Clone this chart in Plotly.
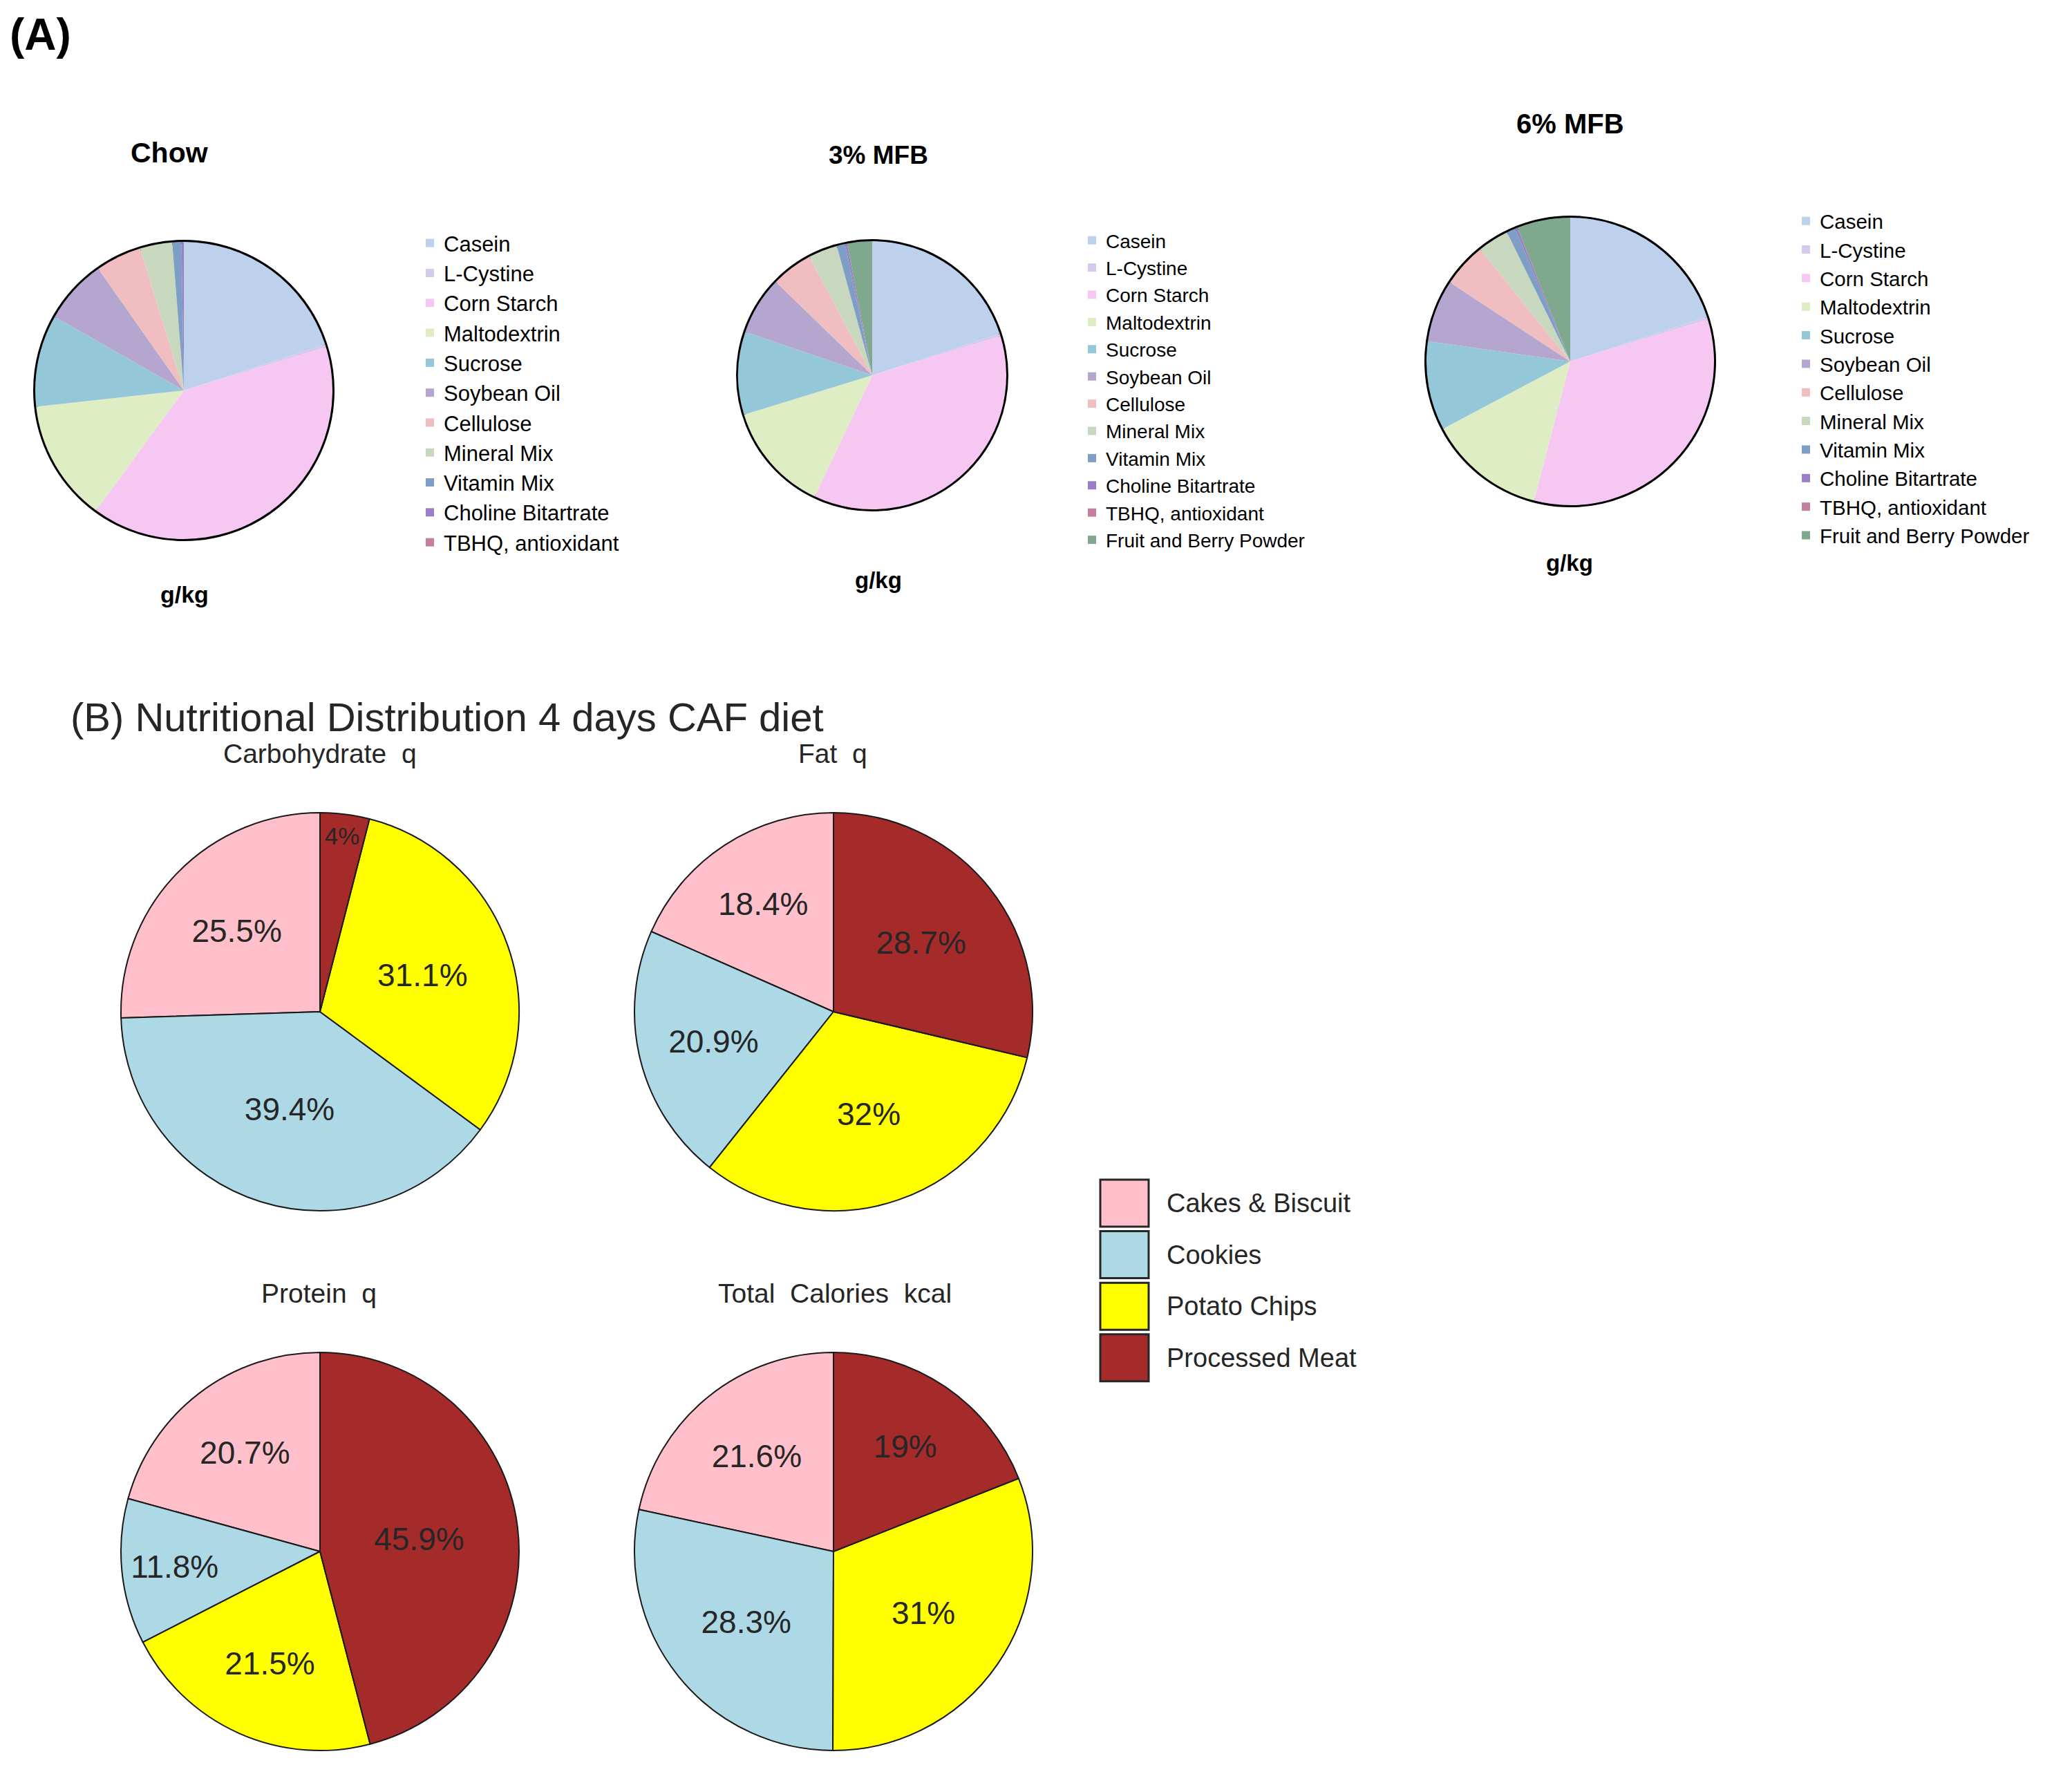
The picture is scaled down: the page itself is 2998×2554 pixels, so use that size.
import plotly.graph_objects as go

W, H = 2998, 2554
OFF = 8  # page body margin of the html file

# ---- panel A: diet composition, g/kg ----
ingredients = ["Casein", "L-Cystine", "Corn Starch", "Maltodextrin", "Sucrose",
               "Soybean Oil", "Cellulose", "Mineral Mix", "Vitamin Mix",
               "Choline Bitartrate", "TBHQ, antioxidant", "Fruit and Berry Powder"]
ingredient_colors = ["#BDD0EC", "#D5C9EC", "#F5C7F2", "#DEEDC3", "#94C7D8", "#B4A6CE",
                     "#F0BDC0", "#C8D8BF", "#7F9EC5", "#9C7DC7", "#C47E9F", "#80A88F"]
chow_gkg = [200, 3, 397.486, 132, 100, 70, 50, 35, 10, 2.5, 0.014]
mfb3_gkg = [200, 3, 367.486, 132, 100, 70, 50, 35, 10, 2.5, 0.014, 30]
mfb6_gkg = [200, 3, 337.486, 132, 100, 70, 50, 35, 10, 2.5, 0.014, 60]

# ---- panel B: CAF diet, share per food ----
foods = ["Cakes & Biscuit", "Cookies", "Potato Chips", "Processed Meat"]
food_colors = ["#FFC0CB", "#ADD8E6", "#FFFF00", "#A52A2A"]
carbohydrate_pct = [25.5, 39.4, 31.1, 4.0]
fat_pct = [18.4, 20.9, 32.0, 28.7]
protein_pct = [20.7, 11.8, 21.5, 45.9]
calories_pct = [21.6, 28.3, 31.0, 19.0]

FONT = "Liberation Sans, Arial, sans-serif"
DARK = "#262626"


def px(x):
    return (x - OFF) / W


def py(y):
    return 1 - (y - OFF) / H


def dom(cx, cy, r):
    # page-pixel centre/radius -> paper domain
    return dict(x=[px(cx - r), px(cx + r)], y=[py(cy + r), py(cy - r)])


fig = go.Figure()

# panel A pies: black rim from a single-slice pie behind the data pie
panel_a = [
    (chow_gkg, dom(266, 565, 215), "legend", "chow"),
    (mfb3_gkg, dom(1262, 543, 194), "legend2", "mfb3"),
    (mfb6_gkg, dom(2272, 523, 208), "legend3", "mfb6"),
]
for vals, d, leg, grp in panel_a:
    fig.add_trace(go.Pie(values=[1], labels=["rim"], domain=d, sort=False,
                         marker=dict(colors=["white"], line=dict(color="black", width=6)),
                         textinfo="none", hoverinfo="skip", showlegend=False))
    fig.add_trace(go.Pie(values=vals, labels=ingredients[:len(vals)], domain=d,
                         sort=False, direction="clockwise", rotation=0,
                         marker=dict(colors=ingredient_colors[:len(vals)], line=dict(width=0)),
                         textinfo="none", legend=leg, legendgroup=grp, showlegend=True))

# panel B pies, first food starting at 12 o'clock, going counter-clockwise
panel_b = [
    (carbohydrate_pct, dom(463, 1464, 288)),
    (fat_pct, dom(1206, 1464, 288)),
    (protein_pct, dom(463, 2245, 288)),
    (calories_pct, dom(1206, 2245, 288)),
]
for vals, d in panel_b:
    fig.add_trace(go.Pie(values=vals, labels=foods, domain=d, sort=False,
                         direction="counterclockwise",
                         rotation=-360 * vals[0] / sum(vals),
                         marker=dict(colors=food_colors, line=dict(color="#1a1a1a", width=2)),
                         textinfo="percent", textposition="inside",
                         insidetextorientation="horizontal",
                         insidetextfont=dict(size=46, color=DARK, family=FONT),
                         showlegend=False))

annotations = [
    dict(text="<b>(A)</b>", x=12, y=50, size=64, anchor="left", color="black"),
    dict(text="<b>Chow</b>", x=245, y=221, size=41, anchor="center", color="black"),
    dict(text="<b>3% MFB</b>", x=1271, y=224, size=37, anchor="center", color="black"),
    dict(text="<b>6% MFB</b>", x=2272, y=179, size=40, anchor="center", color="black"),
    dict(text="<b>g/kg</b>", x=267, y=860, size=34, anchor="center", color="black"),
    dict(text="<b>g/kg</b>", x=1271, y=840, size=33, anchor="center", color="black"),
    dict(text="<b>g/kg</b>", x=2271, y=814, size=33, anchor="center", color="black"),
    dict(text="(B) Nutritional Distribution 4 days CAF diet", x=100, y=1038, size=58,
         anchor="left", color=DARK),
    dict(text="Carbohydrate  q", x=463, y=1090, size=39, anchor="center", color=DARK),
    dict(text="Fat  q", x=1205, y=1090, size=39, anchor="center", color=DARK),
    dict(text="Protein  q", x=461, y=1871, size=39, anchor="center", color=DARK),
    dict(text="Total  Calories  kcal", x=1208, y=1871, size=39, anchor="center", color=DARK),
]
ann = [dict(text=a["text"], x=px(a["x"]), y=py(a["y"]), xref="paper", yref="paper",
            xanchor=a["anchor"], yanchor="middle", showarrow=False,
            font=dict(size=a["size"], color=a["color"], family=FONT))
       for a in annotations]

# panel B legend: large outlined colour boxes next to the food names
shapes = []
row0, step = 1741, 74.6
for i, (name, col) in enumerate(zip(foods, food_colors)):
    yc = row0 + i * step
    shapes.append(dict(type="rect", xref="paper", yref="paper",
                       x0=px(1592), x1=px(1662), y0=py(yc + 34), y1=py(yc - 34),
                       fillcolor=col, line=dict(color="#262626", width=3)))
    ann.append(dict(text=name, x=px(1686), y=py(yc), xref="paper", yref="paper",
                    xanchor="left", yanchor="middle", showarrow=False,
                    font=dict(size=38, color=DARK, family=FONT)))

legend_common = dict(xanchor="left", yanchor="top", bgcolor="rgba(0,0,0,0)",
                     borderwidth=0, traceorder="normal")
fig.update_layout(
    width=W, height=H,
    margin=dict(l=0, r=0, t=0, b=0),
    paper_bgcolor="white", plot_bgcolor="white",
    font=dict(family=FONT, color="black"),
    annotations=ann, shapes=shapes,
    legend=dict(x=px(602), y=py(325), font=dict(size=31, color="black", family=FONT), **legend_common),
    legend2=dict(x=px(1560), y=py(323), font=dict(size=28, color="black", family=FONT), **legend_common),
    legend3=dict(x=px(2593), y=py(294), font=dict(size=29.5, color="black", family=FONT), **legend_common),
)

fig.write_html("out.html")
